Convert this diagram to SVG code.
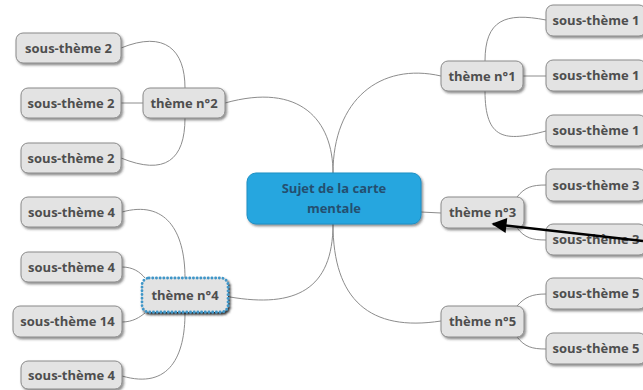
<svg xmlns="http://www.w3.org/2000/svg" width="643" height="390" viewBox="0 0 643 390">
<defs>
<filter id="sh" x="-10%" y="-20%" width="130%" height="150%">
<feDropShadow dx="1.5" dy="1.8" stdDeviation="1" flood-color="#333" flood-opacity="0.55"/>
</filter>
<filter id="sh2" x="-10%" y="-20%" width="130%" height="150%">
<feDropShadow dx="1.5" dy="2" stdDeviation="0.8" flood-color="#000" flood-opacity="0.85"/>
</filter>
<marker id="ah" viewBox="0 0 10 10" refX="9" refY="5" markerWidth="8.5" markerHeight="6" markerUnits="strokeWidth" orient="auto">
<path d="M0,0 L10,5 L0,10 Z" fill="#000"/>
</marker>
<style>
.n rect{fill:#e3e3e3;stroke:#8a8a8a;stroke-width:1;filter:url(#sh)}
.n text{font-family:"Open Sans","Liberation Sans",sans-serif;font-weight:700;font-size:13px;fill:#4e4e4e;text-anchor:middle}
.c path{fill:none;stroke:#8c8c8c;stroke-width:1}
.m{font-family:"Open Sans","Liberation Sans",sans-serif;font-weight:700;font-size:13px;fill:#244f70;text-anchor:middle}
</style>
</defs>
<rect width="643" height="390" fill="#fff"/>
<g class="c" id="connectors">
<path d="M225,103 C300,82 333,120 333,173"/>
<path d="M333,173 C333,100 380,62 441,76"/>
<path d="M421,212 L441,213"/>
<path d="M333,224 C333,290 295,308 230,297"/>
<path d="M333,224 C333,300 370,332 441,321"/>
<path d="M121,48 C165,30 185,50 185,88"/>
<path d="M121,103 L143,103"/>
<path d="M185,118 C185,160 165,176 121,158"/>
<path d="M485,61 C485,20 505,12 546,20"/>
<path d="M523,76 L546,76"/>
<path d="M485,91 C485,140 505,142 546,131"/>
<path d="M517,197 C525,187 532,185 546,185"/>
<path d="M517,228 C525,238 532,240 546,240"/>
<path d="M517,306 C525,297 532,294 546,294"/>
<path d="M517,337 C525,347 532,349 546,349"/>
<path d="M122,212 C165,200 185,230 185,278"/>
<path d="M122,267 C133,267 140,272 145,278"/>
<path d="M122,322 C133,322 140,317 145,313"/>
<path d="M185,313 C185,355 170,390 122,376"/>
</g>
<g id="center">
<rect x="247" y="173" width="174" height="51" rx="9" fill="#25a6df" stroke="#1d8fc4" stroke-width="1" filter="url(#sh)"/>
<text class="m" x="334" y="193">Sujet de la carte</text>
<text class="m" x="334" y="213">mentale</text>
</g>
<g class="n" id="t2"><rect x="143" y="88" width="82" height="30" rx="7"/><text x="184" y="107.5">thème n°2</text></g>
<g class="n" id="s2a"><rect x="16" y="33" width="105" height="30" rx="7"/><text x="68.5" y="52.5">sous-thème 2</text></g>
<g class="n" id="s2b"><rect x="21" y="88" width="100" height="30" rx="7"/><text x="71" y="107.5">sous-thème 2</text></g>
<g class="n" id="s2c"><rect x="21" y="143" width="100" height="30" rx="7"/><text x="71" y="162.5">sous-thème 2</text></g>
<g class="n" id="s4a"><rect x="21" y="197" width="101" height="30" rx="7"/><text x="71.5" y="216.5">sous-thème 4</text></g>
<g class="n" id="s4b"><rect x="21" y="252" width="101" height="30" rx="7"/><text x="71.5" y="271.5">sous-thème 4</text></g>
<g class="n" id="s14"><rect x="13" y="306" width="109" height="31" rx="7"/><text x="67.5" y="326">sous-thème 14</text></g>
<g class="n" id="s4c"><rect x="21" y="361" width="101" height="28" rx="7"/><text x="71.5" y="379.5">sous-thème 4</text></g>
<g class="n" id="t4"><rect x="142" y="278" width="86" height="34" rx="7" style="stroke:#3f96c8;stroke-width:2.8;stroke-dasharray:0.1 3.6;stroke-linecap:round;filter:url(#sh2)"/><text x="185" y="299.5">thème n°4</text></g>
<g class="n" id="t1"><rect x="441" y="61" width="82" height="30" rx="7"/><text x="482" y="80.5">thème n°1</text></g>
<g class="n" id="s1a"><rect x="546" y="5" width="100" height="31" rx="7"/><text x="596" y="25">sous-thème 1</text></g>
<g class="n" id="s1b"><rect x="546" y="60" width="100" height="31" rx="7"/><text x="596" y="80">sous-thème 1</text></g>
<g class="n" id="s1c"><rect x="546" y="115" width="100" height="31" rx="7"/><text x="596" y="135">sous-thème 1</text></g>
<g class="n" id="t3"><rect x="441" y="197" width="83" height="31" rx="7"/><text x="482.5" y="217">thème n°3</text></g>
<g class="n" id="s3a"><rect x="546" y="169" width="100" height="32" rx="7"/><text x="596" y="189.5">sous-thème 3</text></g>
<g class="n" id="s3b"><rect x="546" y="224" width="100" height="31" rx="7"/><text x="596" y="244">sous-thème 3</text></g>
<g class="n" id="t5"><rect x="441" y="306" width="83" height="31" rx="7"/><text x="482.5" y="326">thème n°5</text></g>
<g class="n" id="s5a"><rect x="546" y="278" width="100" height="31" rx="7"/><text x="596" y="298">sous-thème 5</text></g>
<g class="n" id="s5b"><rect x="546" y="333" width="100" height="31" rx="7"/><text x="596" y="353">sous-thème 5</text></g>
<g id="arrow">
<path d="M643,241 L493,224" fill="none" stroke="#000" stroke-width="2.5" marker-end="url(#ah)"/>
</g>
</svg>
